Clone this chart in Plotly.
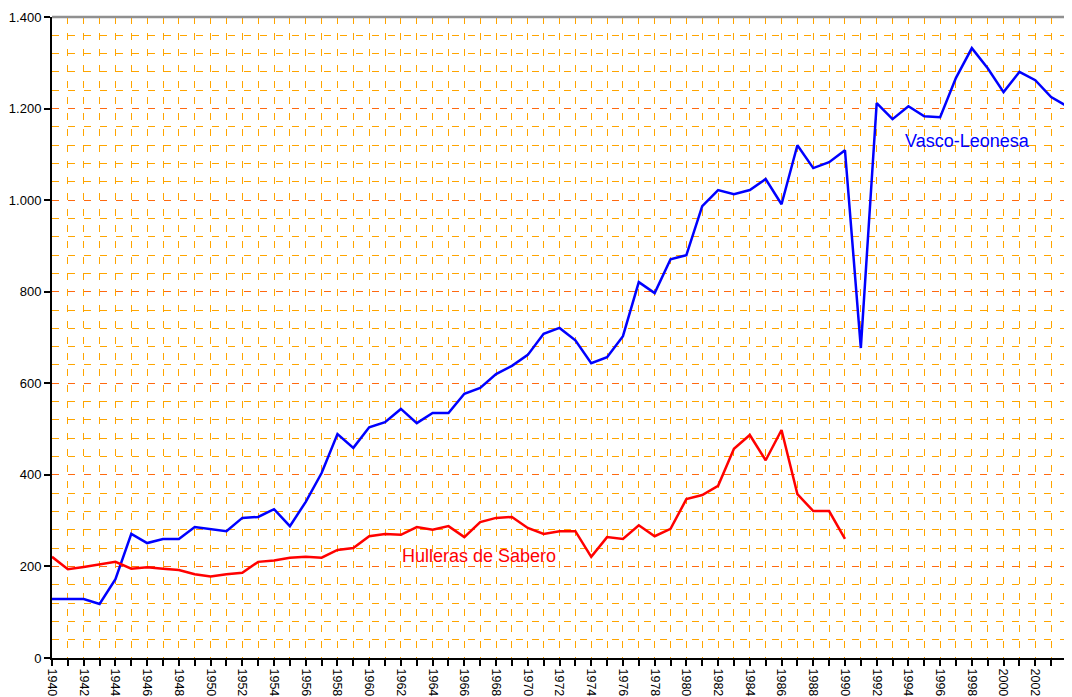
import plotly.graph_objects as go

years = list(range(1940, 2005))

vasco = [129, 129, 129, 118, 172, 271, 251, 260, 260, 286,
         282, 277, 306, 308, 325, 288, 341, 404, 489, 459,
         504, 515, 544, 513, 535, 535, 577, 590, 620, 638,
         662, 708, 721, 694, 644, 657, 703, 821, 797, 871,
         880, 987, 1022, 1013, 1022, 1046, 991, 1120, 1070, 1083,
         1109, 677, 1212, 1177, 1205, 1183, 1181, 1267, 1332, 1288,
         1236, 1280, 1262, 1225, 1205]

sabero_years = list(range(1940, 1991))
sabero = [221, 194, 199, 205, 210, 195, 198, 195, 192, 183,
          178, 183, 186, 210, 213, 219, 221, 219, 236, 240,
          266, 271, 269, 286, 280, 288, 264, 297, 306, 308,
          284, 271, 277, 277, 221, 264, 260, 290, 266, 282,
          347, 356, 376, 457, 487, 432, 498, 358, 321, 321,
          260]

label_vasco = "Vasco-Leonesa"
label_sabero = "Hulleras de Sabero"

FONT = "Liberation Sans, Arial, sans-serif"

fig = go.Figure()
fig.add_trace(go.Scatter(x=years, y=vasco, mode="lines",
                         line=dict(color="#0000FF", width=2.5), name=label_vasco))
fig.add_trace(go.Scatter(x=sabero_years, y=sabero, mode="lines",
                         line=dict(color="#FF0000", width=2.5), name=label_sabero))

fig.add_annotation(x=1997.75, y=1129, text=label_vasco, showarrow=False,
                   font=dict(family=FONT, size=18, color="#0000FF"))
fig.add_annotation(x=1966.9, y=223, text=label_sabero, showarrow=False,
                   font=dict(family=FONT, size=18, color="#FF0000"))

# gray top/right border
fig.add_shape(type="line", xref="paper", yref="paper", x0=0, x1=1, y0=1, y1=1,
              line=dict(color="#909090", width=2.5))
fig.add_shape(type="line", xref="paper", yref="paper", x0=1, x1=1, y0=0, y1=1,
              line=dict(color="#909090", width=2.5))

fig.update_layout(
    width=1064, height=689,
    margin=dict(l=44, r=5, t=9, b=39, autoexpand=False),
    paper_bgcolor="white", plot_bgcolor="white",
    showlegend=False,
    separators=",.",
    font=dict(family=FONT, size=13, color="#000000"),
    xaxis=dict(
        range=[1940, 2004], tick0=1940, dtick=2, tickangle=90,
        automargin=False,
        showgrid=True, gridcolor="#FFA500", griddash="7px,9px", gridwidth=1,
        ticks="outside", ticklen=6, tickcolor="black", tickwidth=1.5,
        showline=True, linecolor="black", linewidth=2,
        zeroline=False,
        minor=dict(dtick=1, showgrid=True, gridcolor="#FFA500", griddash="7px,9px",
                   gridwidth=1, ticks="outside", ticklen=6, tickcolor="black", tickwidth=1.5),
        tickfont=dict(size=12.5),
    ),
    yaxis=dict(
        range=[0, 1400], tick0=0, dtick=200,
        automargin=False,
        showgrid=True, gridcolor="#FF6A10", griddash="7px,9px", gridwidth=1,
        ticks="outside", ticklen=6, tickcolor="black", tickwidth=1.5,
        showline=True, linecolor="black", linewidth=2,
        zeroline=False, tickformat=",d",
        minor=dict(dtick=40, showgrid=True, gridcolor="#FFA500", griddash="7px,9px",
                   gridwidth=1),
        tickfont=dict(size=13),
    ),
)

fig.write_html("out.html")
